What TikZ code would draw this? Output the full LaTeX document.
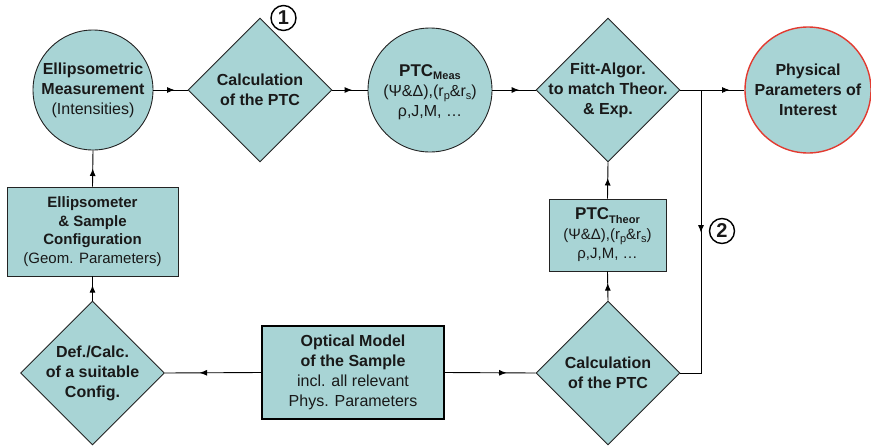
\documentclass[tikz,border=0pt]{standalone}
\usepackage{fontspec}
\setmainfont{Liberation Sans}
\usetikzlibrary{shapes.geometric,arrows.meta,decorations.markings}
\definecolor{boxfill}{RGB}{168,212,213}
\definecolor{edgecol}{RGB}{35,35,35}
\definecolor{redc}{RGB}{226,58,48}
\definecolor{txt}{RGB}{25,25,25}
\newcommand{\mysub}[1]{\raisebox{-0.35ex}{\fontsize{11}{11}\selectfont #1}}
\begin{document}
\begin{tikzpicture}[x=1pt,y=-1pt,
 shp/.style={draw=edgecol, fill=boxfill, line width=0.9pt, inner sep=0pt},
 circ/.style={shp, circle, minimum size=#1},
 diam/.style={shp, diamond, minimum width=144pt, minimum height=144pt},
 rbox/.style={shp, rectangle, align=center, text=txt, font=\fontsize{16}{20}\selectfont},
 lbl/.style={align=center, text=txt, font=\fontsize{16}{20}\selectfont, inner sep=0pt},
 conn/.style={draw=black, line width=0.9pt},
 marr/.style={postaction={decorate}, decoration={markings, mark=at position #1 with {\arrow{Latex[length=7.5pt,width=6pt]}}}},
 num/.style={circle, draw=black, line width=1.4pt, minimum size=25pt, inner sep=0pt, text=txt, font=\fontsize{20}{20}\selectfont\bfseries}
]
\useasboundingbox (0,0) rectangle (871,445);

% top row
\node[circ=120pt] (em) at (93,90) {};
\node[lbl] (emt) at (em) {\textbf{Ellipsometric}\\\textbf{Measurement}\\(Intensities)};
\node[diam] (c1) at (260,90) {};
\node[lbl] (c1t) at (c1) {\textbf{Calculation}\\\textbf{of the PTC}};
\node[circ=124pt] (pm) at (430,90) {};
\node[lbl] (pmt) at (430,92) {\textbf{\fontsize{17}{20}\selectfont PTC\mysub{Meas}}\\(Ψ\&Δ),(r\mysub{p}\&r\mysub{s})\\ρ,J,M, …};
\node[diam] (fa) at (608,90) {};
\node[lbl] (fat) at (fa) {\textbf{Fitt-Algor.}\\\textbf{to match Theor.}\\\textbf{\& Exp.}};
\node[circ=126pt, draw=redc, line width=1.4pt] (pp) at (808,90) {};
\node[lbl] (ppt) at (pp) {\textbf{Physical}\\\textbf{Parameters of}\\\textbf{Interest}};

% middle row
\node[rbox, minimum width=171pt, minimum height=89pt, font=\fontsize{15}{18.5}\selectfont] (es) at (92.5,231.5)
  {\textbf{Ellipsometer}\\\textbf{\& Sample}\\\textbf{Configuration}\\(Geom. Parameters)};
\node[rbox, minimum width=117pt, minimum height=72pt, font=\fontsize{15}{19.5}\selectfont] (pt) at (607.5,235)
  {\textbf{\fontsize{17}{19.5}\selectfont PTC\mysub{Theor}}\\(Ψ\&Δ),(r\mysub{p}\&r\mysub{s})\\ρ,J,M, …};

% bottom row
\node[diam] (dc) at (92.5,373) {};
\node[lbl] (dct) at (dc) {\textbf{Def./Calc.}\\\textbf{of a suitable}\\\textbf{Config.}};
\node[rbox, minimum width=182pt, minimum height=93pt, line width=2pt, draw=black] (om) at (353,372.5)
  {\textbf{Optical Model}\\\textbf{of the Sample}\\incl. all relevant\\Phys. Parameters};
\node[diam] (c2) at (608,373) {};
\node[lbl] (c2t) at (c2) {\textbf{Calculation}\\\textbf{of the PTC}};

% numbers
\node[num] (n1) at (283.5,18) {1};
\node[num] (n2) at (722,231) {2};

% connectors
\draw[conn, marr=0.62] (em) -- (c1);
\draw[conn, marr=0.56] (c1) -- (pm);
\draw[conn, marr=0.62] (pm) -- (fa);
\coordinate (j) at (701,90);
\draw[conn] (fa.east) -- (j);
\draw[conn, marr=0.66] (j) -- (pp.west);
\draw[conn, marr=0.47] (j) -- (j |- c2.east) -- (c2.east);
\draw[conn, marr=0.6] (c2.north) -- (pt.south);
\draw[conn, marr=0.57] (pt.north) -- (fa.south);
\draw[conn, marr=0.64] (om.west) -- (dc.east);
\draw[conn, marr=0.68] (om.east) -- (c2.west);
\draw[conn, marr=0.64] (dc.north) -- (es.south);
\draw[conn, marr=0.5] (es.north) -- (em.south);
\end{tikzpicture}
\end{document}
